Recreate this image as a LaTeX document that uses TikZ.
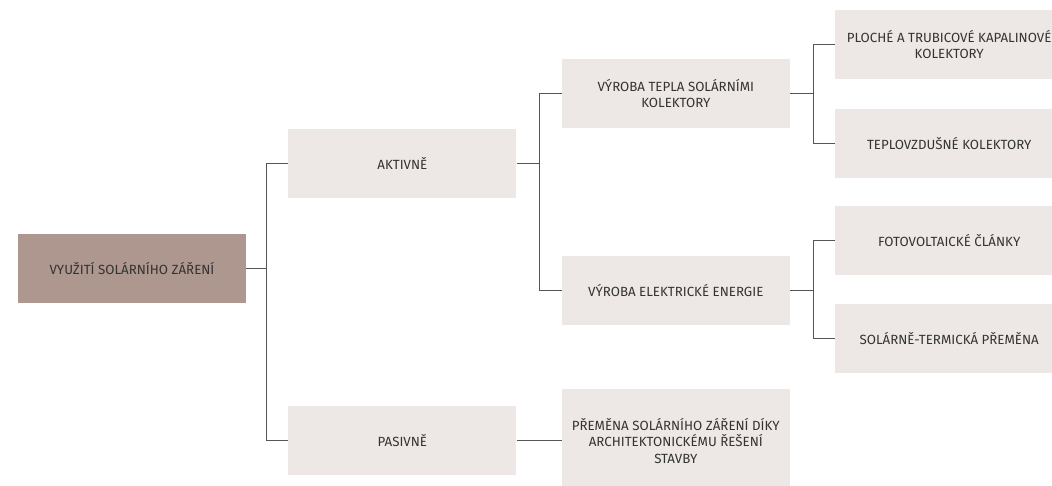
\documentclass[tikz,border=0pt]{standalone}
\usepackage{fontspec}
\setmainfont{Fira Sans}
\usetikzlibrary{positioning}
\definecolor{rootfill}{HTML}{AE978F}
\definecolor{boxfill}{HTML}{EDE8E5}
\definecolor{txtgray}{HTML}{333333}
\definecolor{linegray}{HTML}{555555}

\begin{document}
\begin{tikzpicture}[
        x=1pt, y=1pt,
        font=\fontsize{13.3}{16.5}\selectfont,
        text=txtgray,
        box/.style={fill=boxfill, align=center, minimum width=228pt,
            minimum height=69pt, inner sep=2pt},
        rootbox/.style={box, fill=rootfill},
        link/.style={draw=linegray, line width=1pt}
    ]
    \useasboundingbox (-132,-217.5) rectangle (920,268.5);

    \node[rootbox] (root) at (0,0) {VYUŽITÍ SOLÁRNÍHO ZÁŘENÍ};
    \node[box, above right=36pt and 42pt of root] (aktiv) {AKTIVNĚ};
    \node[box, below right=103pt and 42pt of root] (pasiv) {PASIVNĚ};
    \node[box, above right=0pt and 45pt of aktiv] (teplo)
    {VÝROBA TEPLA SOLÁRNÍMI\\KOLEKTORY};
    \node[box, below right=58pt and 45pt of aktiv] (elektr)
    {VÝROBA ELEKTRICKÉ ENERGIE};
    \node[box, right=45pt of pasiv, minimum height=104pt] (premena)
    {PŘEMĚNA SOLÁRNÍHO ZÁŘENÍ DÍKY\\ARCHITEKTONICKÉMU ŘEŠENÍ\\STAVBY};
    \node[box, above right=-20pt and 45pt of teplo] (kapal)
    {PLOCHÉ A TRUBICOVÉ KAPALINOVÉ\\KOLEKTORY};
    \node[box, below right=-20pt and 45pt of teplo] (vzduch)
    {TEPLOVZDUŠNÉ KOLEKTORY};
    \node[box, above right=-19pt and 45pt of elektr] (foto)
    {FOTOVOLTAICKÉ ČLÁNKY};
    \node[box, below right=-21pt and 45pt of elektr] (termo)
    {SOLÁRNĚ-TERMICKÁ PŘEMĚNA};

    \draw[link] (root.east) -- ++(20,0) |- (aktiv.west);
    \draw[link] (root.east) -- ++(20,0) |- (pasiv.west);
    \draw[link] (aktiv.east) -- ++(23,0) |- (teplo.west);
    \draw[link] (aktiv.east) -- ++(23,0) |- (elektr.west);
    \draw[link] (pasiv.east) -- (premena.west);
    \draw[link] (teplo.east) -- ++(23,0) |- (kapal.west);
    \draw[link] (teplo.east) -- ++(23,0) |- (vzduch.west);
    \draw[link] (elektr.east) -- ++(23,0) |- (foto.west);
    \draw[link] (elektr.east) -- ++(23,0) |- (termo.west);
\end{tikzpicture}
\end{document}
